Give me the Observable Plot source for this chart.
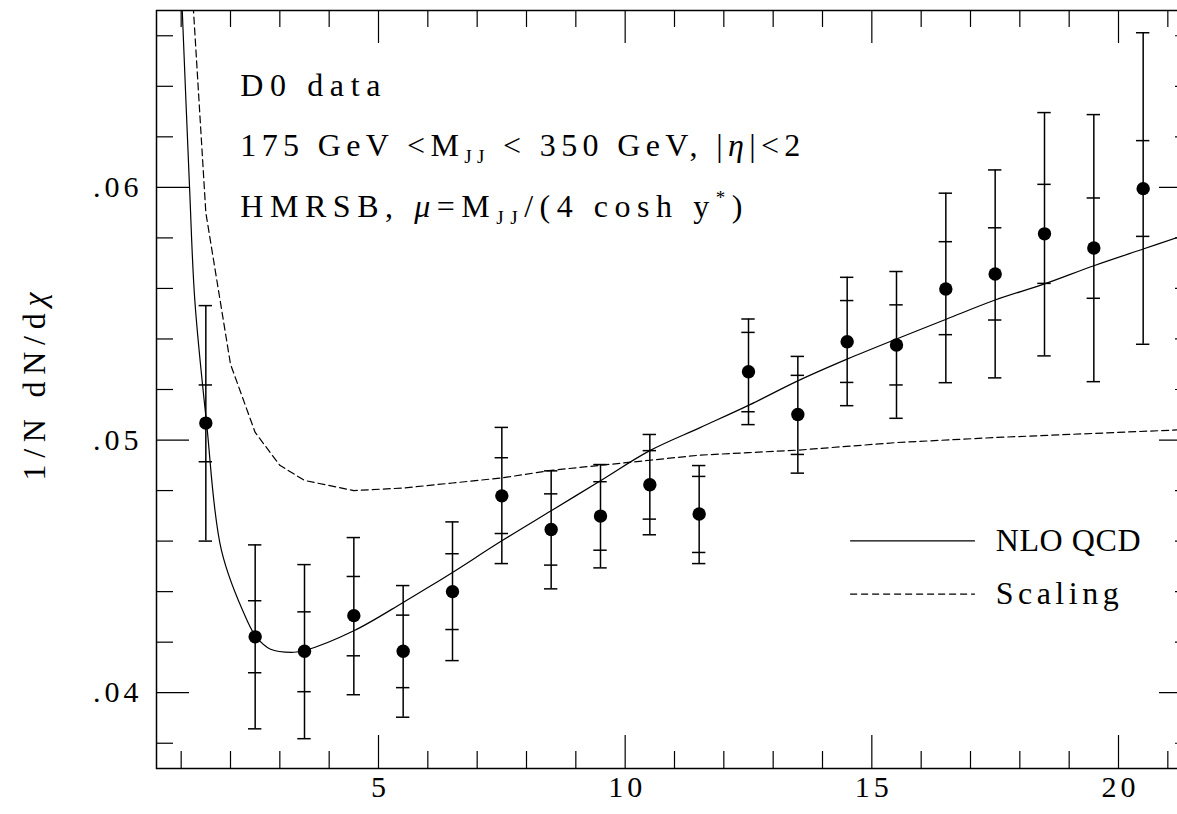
<!DOCTYPE html>
<html><head><meta charset="utf-8">
<script src="https://cdn.jsdelivr.net/npm/d3@7"></script>
<script src="https://cdn.jsdelivr.net/npm/@observablehq/plot@0.6"></script>
<style>
html,body{margin:0;padding:0;background:#fff;overflow:hidden;}
</style></head><body><div id="chart"></div>
<script>
// ---- data ----
const chi      = [1.5, 2.5, 3.5, 4.5, 5.5, 6.5, 7.5, 8.5, 9.5, 10.5, 11.5, 12.5, 13.5, 14.5, 15.5, 16.5, 17.5, 18.5, 19.5, 20.5];
const value    = [0.05067,0.04221,0.04164,0.04305,0.04164,0.04400,0.04779,0.04646,0.04699,0.04823,0.04707,0.05270,0.05101,0.05389,0.05376,0.05598,0.05657,0.05816,0.05760,0.05995];
const statLow  = [0.04914,0.04079,0.04004,0.04146,0.04020,0.04250,0.04630,0.04505,0.04564,0.04687,0.04555,0.05112,0.04943,0.05228,0.05218,0.05417,0.05475,0.05620,0.05561,0.05806];
const statHigh = [0.05218,0.04364,0.04320,0.04460,0.04307,0.04550,0.04930,0.04787,0.04835,0.04958,0.04856,0.05426,0.05256,0.05552,0.05535,0.05785,0.05840,0.06012,0.05958,0.06185];
const totLow   = [0.04600,0.03857,0.03818,0.03992,0.03903,0.04127,0.04511,0.04411,0.04494,0.04625,0.04511,0.05061,0.04869,0.05136,0.05086,0.05227,0.05246,0.05333,0.05231,0.05379];
const totHigh  = [0.05532,0.04585,0.04507,0.04614,0.04424,0.04676,0.05050,0.04878,0.04903,0.05022,0.04899,0.05479,0.05331,0.05644,0.05667,0.05977,0.06069,0.06296,0.06288,0.06612];

const nloChi   = [1.0, 1.022, 1.17, 1.277, 1.514, 1.818, 2.339, 2.522, 2.812, 3.284, 3.507, 4.5, 5.5, 6.06, 6.5, 7.5, 8.5, 9.5, 10.5, 11.53, 12.52, 13.51, 14.51, 15.5, 16.52, 17.5, 18.5, 19.5, 20.5, 21.2];
const nloVal   = [0.0680, 0.0670, 0.0600, 0.05552, 0.05069, 0.04562, 0.04285, 0.04221, 0.04172, 0.04160, 0.04167, 0.04245, 0.04357, 0.04423, 0.04476, 0.04601, 0.04720, 0.04839, 0.04958, 0.05050, 0.05139, 0.05235, 0.05321, 0.05400, 0.05479, 0.05554, 0.05618, 0.05690, 0.05756, 0.05802];

const scalChi  = [1.0, 1.5, 2.0, 2.5, 3.0, 3.5, 4.5, 5.5, 6.5, 7.5, 8.5, 9.5, 10.5, 11.5, 12.5, 13.5, 15.5, 17.5, 21.2];
const scalVal  = [0.0750, 0.0590, 0.0530, 0.0503, 0.0490, 0.0484, 0.0480, 0.0481, 0.0483, 0.0485, 0.0488, 0.0490, 0.0492, 0.0494, 0.0495, 0.0496, 0.0499, 0.0501, 0.0504];

const xTickLabels = [5, 10, 15, 20];
const yTickLabels = [0.04, 0.05, 0.06];
const annotationLines = ["D0 data", "175 GeV <M_{JJ} < 350 GeV, |η|<2", "HMRSB, μ=M_{JJ}/(4 cosh y^{*})"];
const legendLabels = ["NLO QCD", "Scaling"];
const yAxisTitle = "1/N dN/dχ";

// ---- layout / style ----
const FONT = "'Liberation Serif', 'Times New Roman', serif";
const W = 1200, H = 814, ML = 156, MR = 8, MT = 10, MB = 46;
const X_DOMAIN = [0.5, 21.5], Y_DOMAIN = [0.037, 0.067];
const kx = (X_DOMAIN[1] - X_DOMAIN[0]) / (W - ML - MR);   // data units per px
const ky = (Y_DOMAIN[1] - Y_DOMAIN[0]) / (H - MT - MB);
const MAJOR = 33, MINOR = 17, CAP = 6.7;
const annotX = 2.2, annotY = [0.06402, 0.06166, 0.05924];
const legendLine = {x1: 14.57, x2: 17.10, textX: 17.51, y: [0.04601, 0.04390]};
const DASH = "7,4";
// set widths (px) of the wide-spaced HIGZ-style lettering, keyed by text
const TEXT_WIDTH = new Map([
  [annotationLines[0], 140], [annotationLines[1], 560], [annotationLines[2], 502],
  [legendLabels[0], 145], [legendLabels[1], 123], [yAxisTitle, 188]
]);
const LETTER_SPACE = 4, WORD_SPACE = 6;

// ---- derived tables ----
const points = chi.map((x, i) => ({x, y: value[i], sLo: statLow[i], sHi: statHigh[i], tLo: totLow[i], tHi: totHigh[i]}));
const caps = points.flatMap(p => [p.sLo, p.sHi, p.tLo, p.tHi].map(y => ({x: p.x, y})));
const nlo = nloChi.map((x, i) => ({x, y: nloVal[i]}));
const scal = scalChi.map((x, i) => ({x, y: scalVal[i]}));
const xTicks = d3.range(1, 22).map(v => ({v, len: xTickLabels.includes(v) ? MAJOR : MINOR}));
const yTicks = d3.range(19, 34).map(k => ({v: +(k * 0.002).toFixed(3), len: k % 5 === 0 ? MAJOR : MINOR}));
const [X0, X1] = X_DOMAIN, [Y0, Y1] = Y_DOMAIN;
const legend = legendLabels.map((label, i) => ({label, y: legendLine.y[i]}));
const annots = annotationLines.map((t, i) => ({t, y: annotY[i]}));

const chart = Plot.plot({
  width: W, height: H, marginLeft: ML, marginRight: MR, marginTop: MT, marginBottom: MB,
  style: {fontFamily: FONT, fontSize: "30px", color: "#000", background: "#fff", maxWidth: "none", overflow: "visible"},
  x: {domain: X_DOMAIN, ticks: xTickLabels, tickSize: 0, tickPadding: 7, label: null},
  y: {domain: Y_DOMAIN, ticks: yTickLabels, tickSize: 0, tickPadding: 18, label: null, tickFormat: d => d.toFixed(2).replace(/^0/, "")},
  marks: [
    Plot.frame({stroke: "#000", strokeWidth: 1.5}),
    // inward ticks on all four sides
    Plot.ruleX(xTicks, {x: "v", y1: Y0, y2: d => Y0 + d.len * ky, stroke: "#000", strokeWidth: 1.2}),
    Plot.ruleX(xTicks, {x: "v", y1: Y1, y2: d => Y1 - d.len * ky, stroke: "#000", strokeWidth: 1.2}),
    Plot.ruleY(yTicks, {y: "v", x1: X0, x2: d => X0 + d.len * kx, stroke: "#000", strokeWidth: 1.2}),
    Plot.ruleY(yTicks, {y: "v", x1: X1, x2: d => X1 - d.len * kx, stroke: "#000", strokeWidth: 1.2}),
    // theory curves
    Plot.line(scal, {x: "x", y: "y", stroke: "#000", strokeWidth: 1.2, strokeDasharray: DASH, clip: true}),
    Plot.line(nlo, {x: "x", y: "y", stroke: "#000", strokeWidth: 1.2, curve: "catmull-rom", clip: true}),
    // data with error bars
    Plot.ruleX(points, {x: "x", y1: "tLo", y2: "tHi", stroke: "#000", strokeWidth: 1.5}),
    Plot.ruleY(caps, {y: "y", x1: d => d.x - CAP * kx, x2: d => d.x + CAP * kx, stroke: "#000", strokeWidth: 1.5}),
    Plot.dot(points, {x: "x", y: "y", r: 6.7, fill: "#000", stroke: null}),
    // legend
    Plot.ruleY(legend.slice(0, 1), {y: "y", x1: legendLine.x1, x2: legendLine.x2, stroke: "#000", strokeWidth: 1.2}),
    Plot.ruleY(legend.slice(1), {y: "y", x1: legendLine.x1, x2: legendLine.x2, stroke: "#000", strokeWidth: 1.2, strokeDasharray: DASH}),
    Plot.text(legend, {x: legendLine.textX, y: "y", text: "label", textAnchor: "start", lineAnchor: "middle", fontSize: 32, fontFamily: FONT}),
    // annotations
    Plot.text(annots, {x: annotX, y: "y", text: "t", textAnchor: "start", lineAnchor: "middle", fontSize: 32, fontFamily: FONT}),
    Plot.text([yAxisTitle], {frameAnchor: "left", text: d => d, rotate: -90, dx: -122, dy: -3, textAnchor: "middle", lineAnchor: "middle", fontSize: 32, fontFamily: FONT})
  ]
});
document.getElementById("chart").appendChild(chart);

// typography: serif face, sub/superscripts and italic Greek as real text tspans,
// and the wide letter spacing of the original (via textLength, which keeps the serif face)
const SVGNS = "http://www.w3.org/2000/svg";
d3.select(chart).selectAll("text").each(function () {
  const s = this.textContent;
  this.style.fontFamily = FONT;
  if (/[_^]\{|[μηχ]/.test(s)) {
    const parts = s.split(/(_\{[^}]*\}|\^\{[^}]*\}|[μηχ])/).filter(p => p !== "");
    this.textContent = "";
    let shift = 0;
    for (const p of parts) {
      const t = document.createElementNS(SVGNS, "tspan");
      let txt = p, target = 0;
      if (p.startsWith("_{")) { txt = p.slice(2, -1); target = 7; t.setAttribute("font-size", "19px"); }
      else if (p.startsWith("^{")) { txt = p.slice(2, -1); target = -13; t.setAttribute("font-size", "19px"); }
      else if (/[μηχ]/.test(p)) t.setAttribute("font-style", "italic");
      t.setAttribute("dy", target - shift);
      shift = target;
      t.textContent = txt;
      this.appendChild(t);
    }
  }
  const plain = this.textContent;
  if (plain.length < 2) return;
  const natural = this.getComputedTextLength();
  const spaces = (plain.match(/ /g) || []).length;
  const width = TEXT_WIDTH.get(s) ?? natural + LETTER_SPACE * (plain.length - 1) + WORD_SPACE * spaces;
  this.setAttribute("textLength", width);
  this.setAttribute("lengthAdjust", "spacing");
});
</script></body></html>
